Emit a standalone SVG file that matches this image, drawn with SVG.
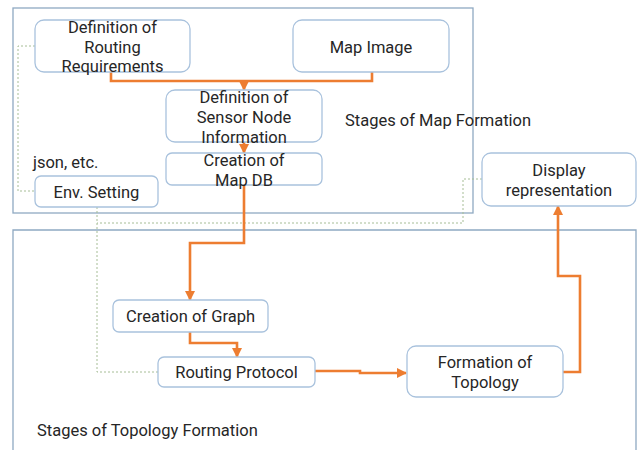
<svg xmlns="http://www.w3.org/2000/svg" width="640" height="450" viewBox="0 0 640 450">
  <style>
    .stage { fill: none; stroke: #8FA9C2; stroke-width: 1.3; }
    .box { fill: #FFFFFF; stroke: #A9C2DD; stroke-width: 1.3; }
    .lbl { font-family: Roboto, "Noto Sans", sans-serif; font-size: 16.5px; fill: #262626; text-anchor: middle; }
    .note { font-family: Roboto, "Noto Sans", sans-serif; font-size: 16.5px; fill: #262626; }
    .flow { fill: none; stroke: #ED7D31; stroke-width: 2.6; stroke-linejoin: miter; }
    .link { fill: none; stroke: #A6BD96; stroke-width: 1; stroke-dasharray: 2 2; }
  </style>
  <defs>
    <marker id="arrow" viewBox="0 0 10 10" refX="9" refY="5" markerWidth="4" markerHeight="4" orient="auto" markerUnits="strokeWidth">
      <path d="M0 0 L10 5 L0 10 Z" fill="#ED7D31"/>
    </marker>
  </defs>

  <rect width="640" height="450" fill="#FFFFFF"/>

  <!-- stage frames -->
  <g id="stage-map">
    <rect class="stage" x="13" y="8" width="460" height="205"/>
    <text class="note" x="345" y="126">Stages of Map Formation</text>
  </g>
  <g id="stage-topology">
    <path class="stage" d="M13 452 V230 H636 V452"/>
    <text class="note" x="37" y="436">Stages of Topology Formation</text>
  </g>

  <!-- connectors -->
  <g id="connectors">
    <path class="link" d="M35 46 H18 V191 H35"/>
    <path class="link" d="M97 207 V372 H158"/>
    <path class="link" d="M482 179 H463 V223 H97"/>
    <path class="flow" d="M111 72 V81 H372 V72"/>
    <path class="flow" d="M244 81 V90" marker-end="url(#arrow)"/>
    <path class="flow" d="M244 142 V153" marker-end="url(#arrow)"/>
    <path class="flow" d="M244 185 V243 H190 V300" marker-end="url(#arrow)"/>
    <path class="flow" d="M190 332 V343 H237 V357" marker-end="url(#arrow)"/>
    <path class="flow" d="M315 371 H360 V373 H406" marker-end="url(#arrow)"/>
    <path class="flow" d="M563 372 H580 V276 H558 V206" marker-end="url(#arrow)"/>
  </g>

  <!-- map formation nodes -->
  <g id="routing-requirements">
    <rect class="box" x="35" y="20" width="155" height="52" rx="9"/>
    <text class="lbl" x="112.5" y="33">Definition of</text>
    <text class="lbl" x="112.5" y="52.5">Routing</text>
    <text class="lbl" x="112.5" y="72">Requirements</text>
  </g>
  <g id="map-image">
    <rect class="box" x="293" y="20" width="156" height="52" rx="9"/>
    <text class="lbl" x="371" y="53">Map Image</text>
  </g>
  <g id="sensor-node-info">
    <rect class="box" x="166" y="90" width="156" height="52" rx="9"/>
    <text class="lbl" x="244" y="103">Definition of</text>
    <text class="lbl" x="244" y="123">Sensor Node</text>
    <text class="lbl" x="244" y="142.5">Information</text>
  </g>
  <g id="map-db">
    <rect class="box" x="166" y="153" width="156" height="32" rx="6"/>
    <text class="lbl" x="244" y="166">Creation of</text>
    <text class="lbl" x="244" y="185.5">Map DB</text>
  </g>
  <g id="env-setting">
    <text class="note" x="33" y="168">json, etc.</text>
    <rect class="box" x="35" y="176" width="123" height="31" rx="6"/>
    <text class="lbl" x="96.5" y="198">Env. Setting</text>
  </g>
  <g id="display-representation">
    <rect class="box" x="482" y="153" width="154" height="53" rx="9"/>
    <text class="lbl" x="559" y="176">Display</text>
    <text class="lbl" x="559" y="196">representation</text>
  </g>

  <!-- topology formation nodes -->
  <g id="graph">
    <rect class="box" x="113" y="300" width="155" height="32" rx="6"/>
    <text class="lbl" x="190.5" y="322">Creation of Graph</text>
  </g>
  <g id="routing-protocol">
    <rect class="box" x="158" y="357" width="157" height="30" rx="6"/>
    <text class="lbl" x="236.5" y="378">Routing Protocol</text>
  </g>
  <g id="topology">
    <rect class="box" x="407" y="346" width="156" height="51" rx="9"/>
    <text class="lbl" x="485" y="368">Formation of</text>
    <text class="lbl" x="485" y="388">Topology</text>
  </g>
</svg>
